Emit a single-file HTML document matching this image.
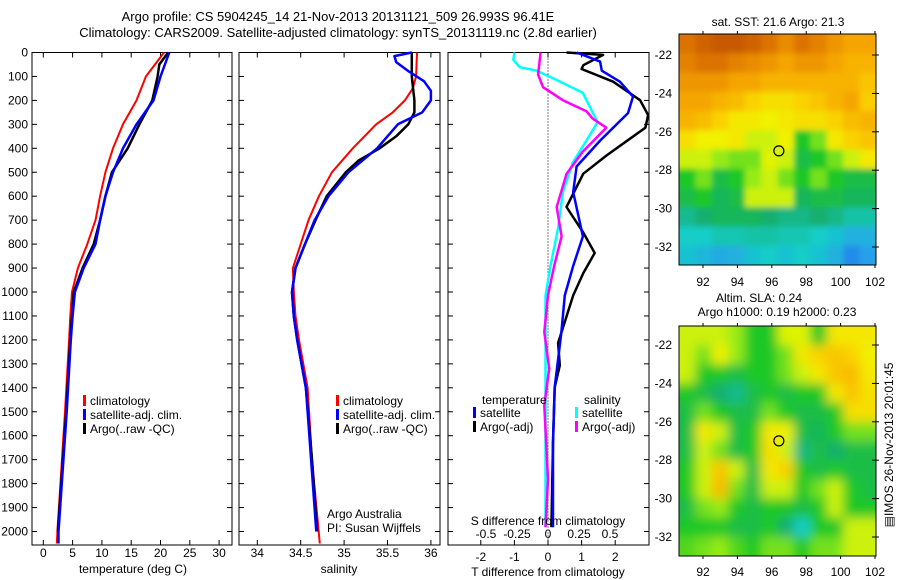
<!DOCTYPE html>
<html><head><meta charset="utf-8"><style>
html,body{margin:0;padding:0;background:#fff;}
svg{display:block;font-family:"Liberation Sans",sans-serif;}
</style></head><body>
<svg id="fig" width="900" height="580" viewBox="0 0 900 580">
<g id="titles" font-size="13" fill="#000" text-anchor="middle">
<text x="338" y="21">Argo profile: CS 5904245_14 21-Nov-2013 20131121_509 26.993S 96.41E</text>
<text x="338" y="37">Climatology: CARS2009. Satellite-adjusted climatology: synTS_20131119.nc (2.8d earlier)</text>
</g>
</svg>
<script>
// ---------------- DATA ----------------
const depthTicks=[0,100,200,300,400,500,600,700,800,900,1000,1100,1200,1300,1400,1500,1600,1700,1800,1900,2000];
const tempTicks=[0,5,10,15,20,25,30];
const salTicks=[34,34.5,35,35.5,36];
const tdiffTicks=[-2,-1,0,1,2];
const sdiffTicks=[-0.5,-0.25,0,0.25,0.5];
const sdiffTickLabels=["-0.5","-0.25","0","0.25","0.5"];

const climTDepth=[0,100,200,300,400,500,600,700,800,900,1000,1100,1200,1500,2000,2050];
const climT=[20.6,17.5,15.9,13.6,11.9,10.6,9.7,8.9,7.5,5.9,4.9,4.6,4.4,3.7,2.4,2.3];
const satTDepth=[0,100,200,300,400,500,600,700,800,900,1000,1100,1200,1500,2000,2050];
const satT=[21.5,20.0,18.8,15.9,13.6,11.9,10.6,9.7,8.9,6.9,5.4,5.0,4.7,4.0,2.6,2.6];
const argoTDepth=[0,50,100,200,300,400,500,600,700,800,900,1000,1100,1200,1500,2000];
const argoT=[21.3,19.8,19.5,18.6,16.4,14.4,11.7,10.6,9.7,8.6,6.7,5.2,4.9,4.6,3.9,2.5];

const climSDepth=[0,100,150,200,250,300,400,500,600,700,800,900,1000,1100,1200,1400,1700,2050];
const climS=[35.84,35.83,35.79,35.70,35.56,35.37,35.10,34.86,34.71,34.59,34.50,34.41,34.42,34.44,34.48,34.58,34.63,34.72];
const satSDepth=[0,15,40,80,120,160,200,250,300,350,400,500,600,700,800,900,1000,1100,1200,1400,1700,2000];
const satS=[35.78,35.58,35.60,35.75,35.92,36.0,36.0,35.90,35.62,35.50,35.38,35.05,34.82,34.66,34.55,34.44,34.40,34.42,34.46,34.56,34.62,34.68];
const argoSDepth=[0,100,200,250,300,350,400,450,500,600,700,800,900,1000,1100,1200,1400,1700,2000];
const argoS=[35.78,35.78,35.81,35.81,35.74,35.60,35.41,35.17,35.02,34.80,34.67,34.55,34.44,34.40,34.42,34.46,34.56,34.63,34.69];

const dTsatDepth=[0,38,76,122,184,253,368,476,583,768,891,1014,1167,1398,1628,1982];
const dTsat=[0.85,1.55,1.6,2.14,2.53,2.38,1.55,0.85,0.75,1.04,0.75,0.5,0.4,0.2,0.15,0.15];
const dTargoDepth=[0,10,53,69,122,199,261,314,360,430,506,645,752,837,921,1014,1213,1306,1398,1628,1982];
const dTargo=[0.55,1.64,1.05,1.0,1.94,2.74,2.98,2.9,2.44,1.74,1.05,0.55,1.05,1.39,1.05,0.75,0.3,0.35,0.2,0.15,0.1];
const dSsatDepth=[0,30,61,76,115,168,291,368,460,583,737,891,1014,1500,1982];
const dSsat=[-0.27,-0.28,-0.23,-0.09,0.07,0.28,0.40,0.31,0.2,0.12,0.08,0.02,-0.02,-0.02,-0.02];
const dSargoDepth=[0,92,145,199,245,276,314,414,506,645,768,891,1014,1167,1320,1474,1782,1982];
const dSargo=[-0.06,-0.08,-0.04,0.12,0.31,0.36,0.47,0.28,0.15,0.07,0.11,0.05,0,-0.03,0.01,-0.03,0,-0.02];

const latTicks=[-22,-24,-26,-28,-30,-32];
const lonTicks=[92,94,96,98,100,102];
const sstGrid=[
[.85,.88,.9,.9,.88,.85,.8,.85,.82,.78,.75,.75],
[.82,.85,.85,.82,.8,.78,.75,.78,.78,.75,.72,.72],
[.78,.78,.78,.75,.75,.72,.72,.72,.72,.72,.72,.68],
[.75,.75,.72,.7,.65,.62,.62,.65,.68,.72,.75,.66],
[.72,.7,.65,.6,.6,.58,.6,.62,.62,.65,.7,.72],
[.62,.58,.58,.6,.55,.55,.58,.45,.5,.6,.65,.68],
[.55,.55,.52,.5,.5,.56,.55,.42,.45,.5,.55,.6],
[.45,.5,.42,.45,.52,.55,.5,.45,.5,.45,.42,.42],
[.42,.45,.4,.42,.55,.55,.55,.4,.42,.42,.4,.4],
[.35,.38,.4,.4,.4,.38,.36,.36,.38,.36,.33,.33],
[.3,.3,.32,.32,.33,.33,.32,.32,.3,.28,.25,.25],
[.28,.26,.24,.25,.28,.3,.28,.3,.28,.25,.2,.22]];
const slaGrid=[
[.55,.55,.55,.52,.45,.45,.56,.56,.45,.6,.6,.6],
[.55,.5,.58,.52,.45,.45,.5,.6,.65,.68,.65,.58],
[.55,.45,.45,.42,.45,.45,.5,.55,.6,.68,.7,.6],
[.45,.42,.38,.35,.42,.45,.42,.45,.45,.6,.68,.62],
[.42,.5,.45,.42,.42,.5,.45,.42,.42,.45,.62,.62],
[.42,.6,.55,.42,.45,.6,.58,.42,.4,.45,.5,.5],
[.42,.55,.5,.42,.45,.62,.55,.36,.42,.38,.42,.42],
[.45,.55,.68,.55,.42,.6,.65,.45,.42,.45,.42,.42],
[.45,.55,.7,.5,.42,.55,.55,.45,.5,.55,.45,.42],
[.42,.5,.52,.45,.42,.45,.45,.42,.45,.55,.45,.45],
[.45,.45,.45,.42,.42,.45,.38,.3,.45,.45,.55,.55],
[.48,.5,.52,.48,.45,.5,.5,.45,.5,.5,.55,.55]];
const argoLon=96.41, argoLat=-26.993;

// ---------------- HELPERS ----------------
const NS="http://www.w3.org/2000/svg";
const svg=document.getElementById('fig');
function mk(tag,attrs,parent){const e=document.createElementNS(NS,tag);for(const k in attrs)e.setAttribute(k,attrs[k]);(parent||svg).appendChild(e);return e;}
function txt(s,x,y,attrs,parent){const e=mk('text',Object.assign({x:x,y:y,'font-size':12},attrs||{}),parent);e.textContent=s;return e;}
const TOP=52.5, BOT=545, DS=0.2395;
const yD=d=>TOP+d*DS;
const xT=v=>43.3+v*5.86;
const xS=v=>257.3+(v-34)*86.8;
const xDT=v=>548+v*33.6;
const xDS=v=>548+v*124;

function frame(x0,x1,name){
  const r=mk('rect',{x:x0,y:TOP,width:x1-x0,height:BOT-TOP,fill:'#fff',stroke:'#000','stroke-width':1});
  
  
  for(const d of depthTicks){const y=yD(d);
    mk('line',{x1:x0,y1:y,x2:x0+5,y2:y,stroke:'#000'});
    mk('line',{x1:x1-5,y1:y,x2:x1,y2:y,stroke:'#000'});}
}
function xticks(ticks,fx,labels,ly,name){
  const g=mk('g',{});
  
  
  ticks.forEach((t,i)=>{const x=fx(t);
    mk('line',{x1:x,y1:TOP,x2:x,y2:TOP+5,stroke:'#000'},g);
    mk('line',{x1:x,y1:BOT-5,x2:x,y2:BOT,stroke:'#000'},g);
    if(labels) txt(labels[i],x,ly,{'text-anchor':'middle'},g);});
}
function line(ds,vs,fx,color,w,name){
  const p=ds.map((d,i)=>(i?'L':'M')+fx(vs[i]).toFixed(1)+','+yD(d).toFixed(1)).join('');
  const e=mk('path',{d:p,fill:'none',stroke:color,'stroke-width':w,'stroke-linejoin':'round'});
  
  
}
function legend(x,y,color,label,name){
  const g=mk('g',{});
  
  
  mk('rect',{x:x,y:y-10,width:3,height:11,fill:color},g);
  txt(label,x+7,y,{},g);
}

// -------- Panel 1: temperature --------
frame(32,232,'temperature-panel');
xticks(tempTicks,xT,tempTicks.map(String),557,'temperature-x-axis');
depthTicks.forEach(d=>{const t=txt(String(d),28,yD(d)+4,{'text-anchor':'end'});
  
  });
txt('temperature (deg C)',133,573,{'text-anchor':'middle'});
line(climTDepth,climT,xT,'#f00',2,'climatology-temperature-line');
line(argoTDepth,argoT,xT,'#000',2.5,'argo-temperature-line');
line(satTDepth,satT,xT,'#00f',2.5,'satellite-temperature-line');
legend(83,405,'#f00','climatology','legend-climatology');
legend(83,419,'#00f','satellite-adj. clim.','legend-satellite-adj');
legend(83,433,'#000','Argo(..raw -QC)','legend-argo-raw');

// -------- Panel 2: salinity --------
frame(239,440,'salinity-panel');
xticks(salTicks,xS,salTicks.map(String),557,'salinity-x-axis');
txt('salinity',339,573,{'text-anchor':'middle'});
line(climSDepth,climS,xS,'#f00',2,'climatology-salinity-line');
line(argoSDepth,argoS,xS,'#000',2.5,'argo-salinity-line');
line(satSDepth,satS,xS,'#00f',2.5,'satellite-salinity-line');
legend(336,405,'#f00','climatology','legend-climatology-2');
legend(336,419,'#00f','satellite-adj. clim.','legend-satellite-adj-2');
legend(336,433,'#000','Argo(..raw -QC)','legend-argo-raw-2');
txt('Argo Australia',327,518,{});
txt('PI: Susan Wijffels',327,532,{});

// -------- Panel 3: differences --------
frame(448,649,'difference-panel');
xticks(tdiffTicks,xDT,tdiffTicks.map(String),561,'t-difference-x-axis');
mk('line',{x1:xDT(0),y1:TOP,x2:xDT(0),y2:BOT,stroke:'#000','stroke-dasharray':'1,2'});
line(dSsatDepth,dSsat,xDS,'#0ff',2.5,'salinity-satellite-diff-line');
line(dSargoDepth,dSargo,xDS,'#f0f',2.5,'salinity-argo-diff-line');
line(dTargoDepth,dTargo,xDT,'#000',2.5,'temperature-argo-diff-line');
line(dTsatDepth,dTsat,xDT,'#00f',2.5,'temperature-satellite-diff-line');
txt('temperature',482,404,{});
txt('salinity',584,404,{});
legend(473,417,'#00f','satellite','legend-t-satellite');
legend(473,431,'#000','Argo(-adj)','legend-t-argo');
legend(575,417,'#0ff','satellite','legend-s-satellite');
legend(575,431,'#f0f','Argo(-adj)','legend-s-argo');
txt('S difference from climatology',548,525,{'text-anchor':'middle'});
sdiffTicks.forEach((t,i)=>{const e=txt(sdiffTickLabels[i],xDS(t),538,{'text-anchor':'middle'});
  
  });
txt('T difference from climatology',548,576,{'text-anchor':'middle'});

// -------- Maps --------
const MX0=679,MX1=876;
const xLon=l=>703+(l-92)*17.2;
function cmap(v){
  const stops=[[0.15,[20,90,230]],[0.22,[40,160,235]],[0.3,[20,205,200]],[0.38,[20,175,110]],[0.45,[30,200,40]],[0.52,[150,235,20]],[0.57,[240,245,0]],[0.65,[250,210,0]],[0.75,[245,165,0]],[0.85,[220,115,0]],[0.92,[190,80,0]]];
  if(v<=stops[0][0])return 'rgb('+stops[0][1]+')';
  for(let i=1;i<stops.length;i++){if(v<=stops[i][0]){const a=stops[i-1],b=stops[i],t=(v-a[0])/(b[0]-a[0]);
    return 'rgb('+a[1].map((c,j)=>Math.round(c+(b[1][j]-c)*t)).join(',')+')';}}
  return 'rgb('+stops[stops.length-1][1]+')';
}
function map(y0,y1,latRef,grid,blurSd,name,lblY){
  const yLat=la=>latRef+(-22-la)*19.2;
  const g=mk('g',{});
  
  
  const cid='clip'+name;
  const cp=mk('clipPath',{id:cid},g);mk('rect',{x:MX0,y:y0,width:MX1-MX0,height:y1-y0},cp);
  const inner=mk('g',{'clip-path':'url(#'+cid+')'},g);
  const f=mk('filter',{id:'bl'+name,x:'-10%',y:'-10%',width:'120%',height:'120%'},g);mk('feGaussianBlur',{stdDeviation:blurSd},f);
  const tg=mk('g',{filter:'url(#bl'+name+')'},inner);
  const R=grid.length,C=grid[0].length,cw=(MX1-MX0)/C,ch=(y1-y0)/R;
  const pad=2;
  for(let r=-pad;r<R+pad;r++)for(let c=-pad;c<C+pad;c++){
    const rr=Math.min(R-1,Math.max(0,r)),cc=Math.min(C-1,Math.max(0,c));
    mk('rect',{x:MX0+c*cw,y:y0+r*ch,width:cw+0.6,height:ch+0.6,fill:cmap(grid[rr][cc])},tg);}
  mk('rect',{x:MX0,y:y0,width:MX1-MX0,height:y1-y0,fill:'none',stroke:'#000'},g);
  latTicks.forEach(la=>{const y=yLat(la);
    mk('line',{x1:MX1-4,y1:y,x2:MX1+3,y2:y,stroke:'#000'},g);
    txt(String(la),672,y+4,{'text-anchor':'end'},g);});
  lonTicks.forEach(lo=>{const x=xLon(lo);
    mk('line',{x1:x,y1:y1,x2:x,y2:y1+3,stroke:'#000'},g);
    mk('line',{x1:x,y1:y0,x2:x,y2:y0-3,stroke:'#000'},g);
    txt(String(lo),x,lblY,{'text-anchor':'middle'},g);});
  const m=mk('ellipse',{cx:xLon(argoLon),cy:yLat(argoLat),rx:5,ry:5,fill:'none',stroke:'#000','stroke-width':1.2},g);
  
  
}
map(34,265,55,sstGrid,3,'sst-map',286);
map(326,556,345,slaGrid,5.5,'sla-map',576);
txt('sat. SST: 21.6 Argo: 21.3',778,26,{'text-anchor':'middle'});
txt('Altim. SLA: 0.24',759,302,{'text-anchor':'middle'});
txt('Argo h1000: 0.19 h2000: 0.23',777,316,{'text-anchor':'middle'});
const im=txt('\u25A4IMOS 26-Nov-2013 20:01:45',0,0,{'text-anchor':'middle',transform:'translate(893,445) rotate(-90)'});


</script>
</body></html>
